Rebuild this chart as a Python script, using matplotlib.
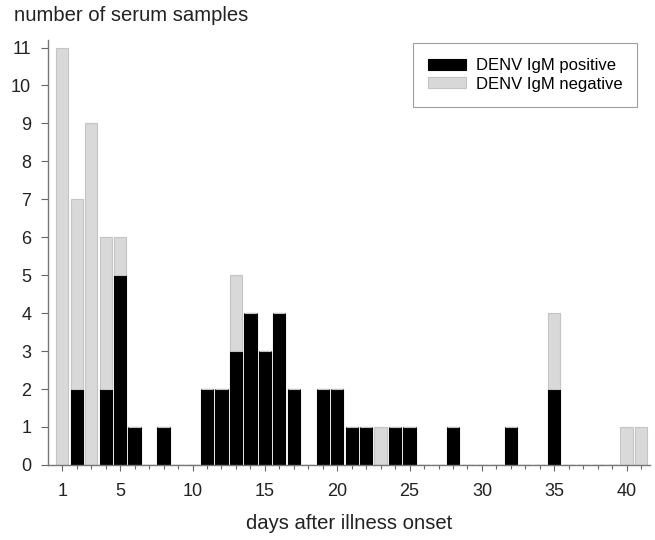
import numpy as np
import matplotlib.pyplot as plt

plt.rcParams['font.family'] = ['Liberation Sans', 'DejaVu Sans']

# days after illness onset and counts per day
days = list(range(1, 42))
positive = [0, 2, 0, 2, 5, 1, 0, 1, 0, 0,
            2, 2, 3, 4, 3, 4, 2, 0, 2, 2,
            1, 1, 0, 1, 1, 0, 0, 1, 0, 0,
            0, 1, 0, 0, 2, 0, 0, 0, 0, 0, 0]
negative = [11, 5, 9, 4, 1, 0, 0, 0, 0, 0,
            0, 0, 2, 0, 0, 0, 0, 0, 0, 0,
            0, 0, 1, 0, 0, 0, 0, 0, 0, 0,
            0, 0, 0, 0, 2, 0, 0, 0, 0, 1, 1]
xtick_days = [1, 5, 10, 15, 20, 25, 30, 35, 40]

fig = plt.figure(figsize=(6.55, 5.4), dpi=100)
ax = fig.add_axes([0.073, 0.139, 0.919, 0.787])

grey = '#d9d9d9'
ax.bar(days, positive, width=0.85, color='black', edgecolor='black',
       linewidth=0.8, label='DENV IgM positive')
ax.bar(days, negative, width=0.85, bottom=positive, color=grey,
       edgecolor='#c4c4c4', linewidth=0.8, label='DENV IgM negative')

ax.set_xlim(0, 41.6)
ax.set_ylim(0, 11.2)
ax.set_xticks(xtick_days)
ax.set_xticks(days, minor=True)
ax.set_yticks(range(0, 12))
ax.tick_params(axis='both', labelsize=13, labelcolor='#222222',
               color='#666666', width=0.8, length=4, direction='out')
ax.tick_params(axis='y', length=5, pad=7)
ax.tick_params(axis='x', which='minor', length=3, width=0.8, color='#666666')
ax.tick_params(axis='x', pad=9)

for side in ['top', 'right']:
    ax.spines[side].set_visible(False)
for side in ['left', 'bottom']:
    ax.spines[side].set_color('#777777')
    ax.spines[side].set_linewidth(1.0)

ax.set_xlabel('days after illness onset', fontsize=14.6, labelpad=10,
              color='#222222')
fig.text(0.021, 0.972, 'number of serum samples', fontsize=14.6,
         ha='left', va='center', color='#222222')

leg = ax.legend(loc='upper left', bbox_to_anchor=(413 / 655, 1 - 43 / 540),
                bbox_transform=fig.transFigure, borderaxespad=0,
                fontsize=12, frameon=True, fancybox=False,
                edgecolor='#888888', handlelength=2.25, handleheight=0.66,
                handletextpad=0.6, borderpad=0.9, labelspacing=0.22)
leg.get_frame().set_linewidth(0.8)

fig.savefig('out.png', dpi=100)
